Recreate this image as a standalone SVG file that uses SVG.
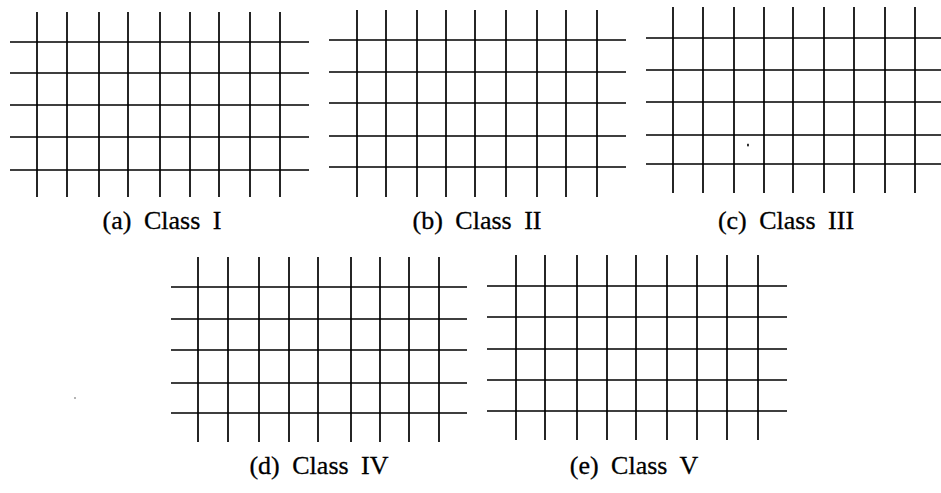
<svg xmlns="http://www.w3.org/2000/svg" width="941" height="493" viewBox="0 0 941 493">
<style>
.g{fill:none;stroke:#000;stroke-width:1.7}
.lbl{font-family:"Liberation Serif","Times New Roman",serif;font-size:26px;fill:#000;stroke:#000;stroke-width:0.3;text-anchor:middle;word-spacing:6px}
</style>
<rect width="941" height="493" fill="#fff"/>
<g id="panel-a">
<path class="g" d="M37,12V197M67,12V197M99,12V197M128,12V197M160,12V197M190,12V197M219,12V197M250,12V197M280,12V197M10,42H309M10,73H309M10,105H309M10,137H309M10,170H309"/>
<text class="lbl" x="162" y="229">(a) Class I</text>
</g>
<g id="panel-b">
<path class="g" d="M357,10V197M386,10V197M417,10V197M446,10V197M475,10V197M506,10V197M537,10V197M566,10V197M597,10V197M329,40H626M329,72H626M329,103H626M329,136H626M329,167H626"/>
<text class="lbl" x="477" y="229">(b) Class II</text>
</g>
<g id="panel-c">
<path class="g" d="M673,7V193M703,7V193M734,7V193M764,7V193M793,7V193M824,7V193M854,7V193M885,7V193M915,7V193M646,38H941M646,70H941M646,102H941M646,135H941M646,164H941"/>
<ellipse cx="748" cy="145" rx="0.9" ry="1.5" fill="#000"/>
<text class="lbl" x="786" y="229">(c) Class III</text>
</g>
<g id="panel-d">
<path class="g" d="M198,257V442M228,257V442M259,257V442M289,257V442M318,257V442M351,257V442M380,257V442M409,257V442M439,257V442M171,287H467M171,319H467M171,350H467M171,383H467M171,413H467"/>
<text class="lbl" x="319" y="474">(d) Class IV</text>
</g>
<g id="panel-e">
<path class="g" d="M516,255V440M545,255V440M577,255V440M607,255V440M636,255V440M667,255V440M697,255V440M727,255V440M758,255V440M487,286H787M487,317H787M487,349H787M487,380H787M487,411H787"/>
<text class="lbl" x="634" y="474">(e) Class V</text>
</g>
<circle cx="75" cy="398" r="0.8" fill="#555"/>
</svg>
